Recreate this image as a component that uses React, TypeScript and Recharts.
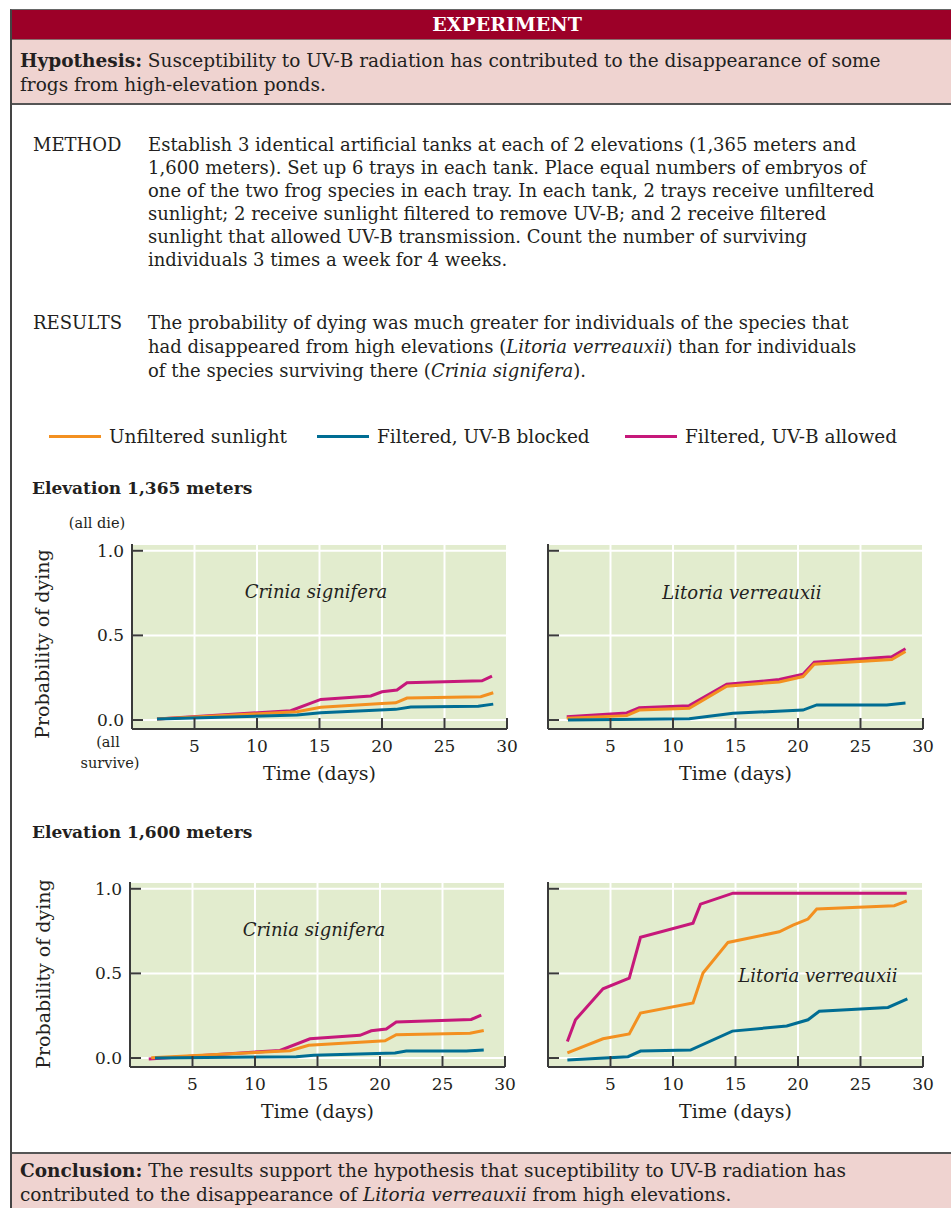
import { LineChart, Line, XAxis, YAxis, CartesianGrid, Label } from "recharts";

const SERIF = '"DejaVu Serif", serif';
const INK = "#231f20";
const AXIS_INK = "#3a3a3a";

const seriesNames = ["Unfiltered sunlight", "Filtered, UV-B blocked", "Filtered, UV-B allowed"];
const seriesColors = ["#f39020", "#006d93", "#c6187a"];
const dayTicks = [5, 10, 15, 20, 25, 30];
const probTicks = [0, 0.5, 1];
const probTickLabels = ["0.0", "0.5", "1.0"];

type Pt = [number, number]; // [day, probability of dying]

// Elevation 1,365 m, Crinia signifera
const crinia1365Unfiltered: Pt[] = [[2, 0.006], [13.2, 0.049], [15.1, 0.075], [20, 0.098], [21.1, 0.102], [22, 0.13], [27.9, 0.138], [28.9, 0.161]];
const crinia1365Blocked: Pt[] = [[2, 0.006], [13.2, 0.03], [15.1, 0.043], [21.1, 0.063], [22.3, 0.077], [27.7, 0.081], [28.9, 0.094]];
const crinia1365Allowed: Pt[] = [[2, 0.006], [12.7, 0.055], [15.1, 0.122], [19.1, 0.142], [20, 0.167], [21.2, 0.177], [22, 0.22], [28, 0.232], [28.8, 0.26]];

// Elevation 1,365 m, Litoria verreauxii
const litoria1365Unfiltered: Pt[] = [[1.5, 0.01], [6.3, 0.026], [7.3, 0.059], [11.3, 0.069], [14.3, 0.2], [18.5, 0.225], [20.4, 0.257], [21.3, 0.33], [27.5, 0.358], [28.6, 0.405]];
const litoria1365Blocked: Pt[] = [[1.6, 0], [11.3, 0.008], [14.8, 0.04], [20.4, 0.059], [21.5, 0.089], [27.1, 0.089], [28.6, 0.1]];
const litoria1365Allowed: Pt[] = [[1.5, 0.02], [6.3, 0.042], [7.3, 0.073], [11.3, 0.085], [14.3, 0.211], [18.5, 0.239], [20.4, 0.271], [21.3, 0.342], [27.5, 0.374], [28.6, 0.421]];

// Elevation 1,600 m, Crinia signifera
const crinia1600Unfiltered: Pt[] = [[1.7, 0.002], [12.8, 0.043], [14.3, 0.075], [20.4, 0.102], [21.3, 0.138], [27.2, 0.146], [28.3, 0.163]];
const crinia1600Blocked: Pt[] = [[2, 0], [13.3, 0.008], [14.7, 0.016], [21.2, 0.03], [22.1, 0.041], [26.9, 0.041], [28.3, 0.047]];
const crinia1600Allowed: Pt[] = [[1.5, -0.006], [12, 0.045], [14.4, 0.114], [18.4, 0.134], [19.3, 0.161], [20.5, 0.171], [21.3, 0.213], [27.3, 0.228], [28.1, 0.254]];

// Elevation 1,600 m, Litoria verreauxii
const litoria1600Unfiltered: Pt[] = [[1.55, 0.03], [4.4, 0.114], [6.5, 0.142], [7.4, 0.266], [11.6, 0.325], [12.4, 0.502], [14.4, 0.683], [18.5, 0.746], [19.6, 0.785], [20.8, 0.821], [21.5, 0.88], [27.7, 0.9], [28.7, 0.929]];
const litoria1600Blocked: Pt[] = [[1.55, -0.012], [6.4, 0.008], [7.4, 0.041], [11.4, 0.047], [14.75, 0.159], [19.1, 0.189], [20.8, 0.226], [21.7, 0.276], [27.2, 0.299], [28.75, 0.35]];
const litoria1600Allowed: Pt[] = [[1.55, 0.098], [2.2, 0.226], [4.4, 0.409], [6.5, 0.472], [7.4, 0.713], [11.6, 0.797], [12.2, 0.909], [14.8, 0.974], [28.7, 0.974]];

const toRows = (pts: Pt[]) => pts.map(([day, prob]) => ({ day, prob }));

const PLOT_W = 375;
const PLOT_H = 185;
const Y_AXIS_W = 44;
const X_AXIS_H = 58;
const PAD_TOP = 4;
const PAD_RIGHT = 16;

const DayTick = (props: any) => {
  const { x, y, payload } = props;
  return (
    <g>
      <line x1={x} x2={x} y1={y} y2={y - 11} stroke={AXIS_INK} strokeWidth={2} />
      <text x={x} y={y + 23} textAnchor="middle" fontSize={17} fontFamily={SERIF} fill={INK}>
        {payload.value}
      </text>
    </g>
  );
};

const makeProbTick = (showLabel: boolean) => (props: any) => {
  const { x, y, payload, index } = props;
  return (
    <g>
      <line x1={x} x2={x + 11} y1={y} y2={y} stroke={AXIS_INK} strokeWidth={2} />
      {showLabel && (
        <text x={x - 8} y={y + 6} textAnchor="end" fontSize={17} fontFamily={SERIF} fill={INK}>
          {probTickLabels[index] ?? payload.value}
        </text>
      )}
    </g>
  );
};

type PanelProps = {
  left: number;
  top: number;
  unfiltered: Pt[];
  blocked: Pt[];
  allowed: Pt[];
  showLabels: boolean;
};

const Panel = ({ left, top, unfiltered, blocked, allowed, showLabels }: PanelProps) => (
  <div style={{ position: "absolute", left: left - Y_AXIS_W, top: top - PAD_TOP }}>
    <LineChart
      width={Y_AXIS_W + PLOT_W + PAD_RIGHT}
      height={PAD_TOP + PLOT_H + X_AXIS_H}
      margin={{ top: PAD_TOP, right: PAD_RIGHT, bottom: 0, left: 0 }}
    >
      <CartesianGrid stroke="#ffffff" strokeWidth={2} fill="#e2ecce" fillOpacity={1} />
      <XAxis
        type="number"
        dataKey="day"
        domain={[0, 30]}
        ticks={dayTicks}
        allowDataOverflow
        height={X_AXIS_H}
        tickSize={0}
        tickMargin={0}
        tickLine={false}
        tick={DayTick}
        axisLine={{ stroke: AXIS_INK, strokeWidth: 2 }}
      >
        <Label value="Time (days)" position="insideBottom" offset={7} fontSize={19} fontFamily={SERIF} fill={INK} />
      </XAxis>
      <YAxis
        type="number"
        domain={[-0.053, 1.04]}
        ticks={probTicks}
        allowDataOverflow
        width={Y_AXIS_W}
        tickSize={0}
        tickMargin={0}
        tickLine={false}
        tick={makeProbTick(showLabels)}
        axisLine={{ stroke: AXIS_INK, strokeWidth: 2 }}
      />
      <Line data={toRows(allowed)} dataKey="prob" name={seriesNames[2]} stroke={seriesColors[2]} strokeWidth={3} dot={false} type="linear" isAnimationActive={false} />
      <Line data={toRows(unfiltered)} dataKey="prob" name={seriesNames[0]} stroke={seriesColors[0]} strokeWidth={3} dot={false} type="linear" isAnimationActive={false} />
      <Line data={toRows(blocked)} dataKey="prob" name={seriesNames[1]} stroke={seriesColors[1]} strokeWidth={3} dot={false} type="linear" isAnimationActive={false} />
    </LineChart>
  </div>
);

const abs = (left: number, top: number, extra: React.CSSProperties = {}): React.CSSProperties => ({
  position: "absolute",
  left,
  top,
  whiteSpace: "nowrap",
  ...extra,
});

const Centered = ({ x, y, size, italic, children }: any) => (
  <div
    style={{
      position: "absolute",
      left: x,
      top: y,
      transform: "translate(-50%, -50%)",
      whiteSpace: "nowrap",
      fontSize: size,
      fontStyle: italic ? "italic" : "normal",
      lineHeight: 1,
    }}
  >
    {children}
  </div>
);

const legendSwatchX = [49, 317, 625];
const legendTextX = [109, 377, 685];

export default function App() {
  return (
    <div
      style={{
        position: "relative",
        width: 951,
        height: 1208,
        overflow: "hidden",
        background: "#ffffff",
        fontFamily: SERIF,
        color: INK,
      }}
    >
      <style>{"body{margin:0}"}</style>

      {/* frame */}
      <div style={{ position: "absolute", left: 10, top: 9, width: 941, height: 1199, borderLeft: "2px solid #444", borderTop: "1px solid #666" }} />
      <div style={{ position: "absolute", left: 12, top: 10, width: 939, height: 29, background: "#9c0028" }} />
      <div style={{ position: "absolute", left: 12, top: 39, width: 939, height: 64, background: "#efd3d0", borderTop: "1px solid #8a6e6e" }} />
      <div style={{ position: "absolute", left: 12, top: 103, width: 939, height: 2, background: "#555" }} />
      <div style={{ position: "absolute", left: 12, top: 1152, width: 939, height: 2, background: "#555" }} />
      <div style={{ position: "absolute", left: 12, top: 1154, width: 939, height: 54, background: "#efd3d0" }} />

      <Centered x={507} y={24} size={19}>
        <span style={{ color: "#ffffff", fontWeight: "bold" }}>EXPERIMENT</span>
      </Centered>

      <div style={abs(20, 49, { fontSize: 18.5, lineHeight: "24px" })}>
        <b>Hypothesis:</b> Susceptibility to UV-B radiation has contributed to the disappearance of some
        <br />
        frogs from high-elevation ponds.
      </div>

      <div style={abs(33, 133, { fontSize: 18, lineHeight: "23px" })}>METHOD</div>
      <div style={abs(148, 133, { fontSize: 18, lineHeight: "23px" })}>
        Establish 3 identical artificial tanks at each of 2 elevations (1,365 meters and
        <br />
        1,600 meters). Set up 6 trays in each tank. Place equal numbers of embryos of
        <br />
        one of the two frog species in each tray. In each tank, 2 trays receive unfiltered
        <br />
        sunlight; 2 receive sunlight filtered to remove UV-B; and 2 receive filtered
        <br />
        sunlight that allowed UV-B transmission. Count the number of surviving
        <br />
        individuals 3 times a week for 4 weeks.
      </div>

      <div style={abs(33, 311, { fontSize: 18, lineHeight: "24px" })}>RESULTS</div>
      <div style={abs(148, 311, { fontSize: 18, lineHeight: "24px" })}>
        The probability of dying was much greater for individuals of the species that
        <br />
        had disappeared from high elevations (<i>Litoria verreauxii</i>) than for individuals
        <br />
        of the species surviving there (<i>Crinia signifera</i>).
      </div>

      {/* legend */}
      {seriesNames.map((name, i) => (
        <div key={name}>
          <div style={{ position: "absolute", left: legendSwatchX[i], top: 435, width: 52, height: 3, background: seriesColors[i] }} />
          <div style={abs(legendTextX[i], 425, { fontSize: 18.5, lineHeight: "24px" })}>{name}</div>
        </div>
      ))}

      <div style={abs(32, 477, { fontSize: 17, lineHeight: "22px", fontWeight: "bold" })}>Elevation 1,365 meters</div>
      <div style={abs(32, 821, { fontSize: 17, lineHeight: "22px", fontWeight: "bold" })}>Elevation 1,600 meters</div>

      <Centered x={97} y={523} size={14.5}>(all die)</Centered>
      <Centered x={108} y={742} size={14.5}>(all</Centered>
      <Centered x={110} y={763} size={14.5}>survive)</Centered>

      <div style={{ position: "absolute", left: 42, top: 644, transform: "translate(-50%, -50%) rotate(-90deg)", whiteSpace: "nowrap", fontSize: 19, lineHeight: 1 }}>
        Probability of dying
      </div>
      <div style={{ position: "absolute", left: 43, top: 974, transform: "translate(-50%, -50%) rotate(-90deg)", whiteSpace: "nowrap", fontSize: 19, lineHeight: 1 }}>
        Probability of dying
      </div>

      <Panel left={132} top={544} unfiltered={crinia1365Unfiltered} blocked={crinia1365Blocked} allowed={crinia1365Allowed} showLabels />
      <Panel left={548} top={544} unfiltered={litoria1365Unfiltered} blocked={litoria1365Blocked} allowed={litoria1365Allowed} showLabels={false} />
      <Panel left={130} top={882} unfiltered={crinia1600Unfiltered} blocked={crinia1600Blocked} allowed={crinia1600Allowed} showLabels />
      <Panel left={548} top={882} unfiltered={litoria1600Unfiltered} blocked={litoria1600Blocked} allowed={litoria1600Allowed} showLabels={false} />

      <Centered x={316} y={592} size={18} italic>Crinia signifera</Centered>
      <Centered x={742} y={593} size={18} italic>Litoria verreauxii</Centered>
      <Centered x={314} y={930} size={18} italic>Crinia signifera</Centered>
      <Centered x={818} y={976} size={18} italic>Litoria verreauxii</Centered>

      <div style={abs(20, 1159, { fontSize: 18.5, lineHeight: "24px" })}>
        <b>Conclusion:</b> The results support the hypothesis that suceptibility to UV-B radiation has
        <br />
        contributed to the disappearance of <i>Litoria verreauxii</i> from high elevations.
      </div>
    </div>
  );
}
